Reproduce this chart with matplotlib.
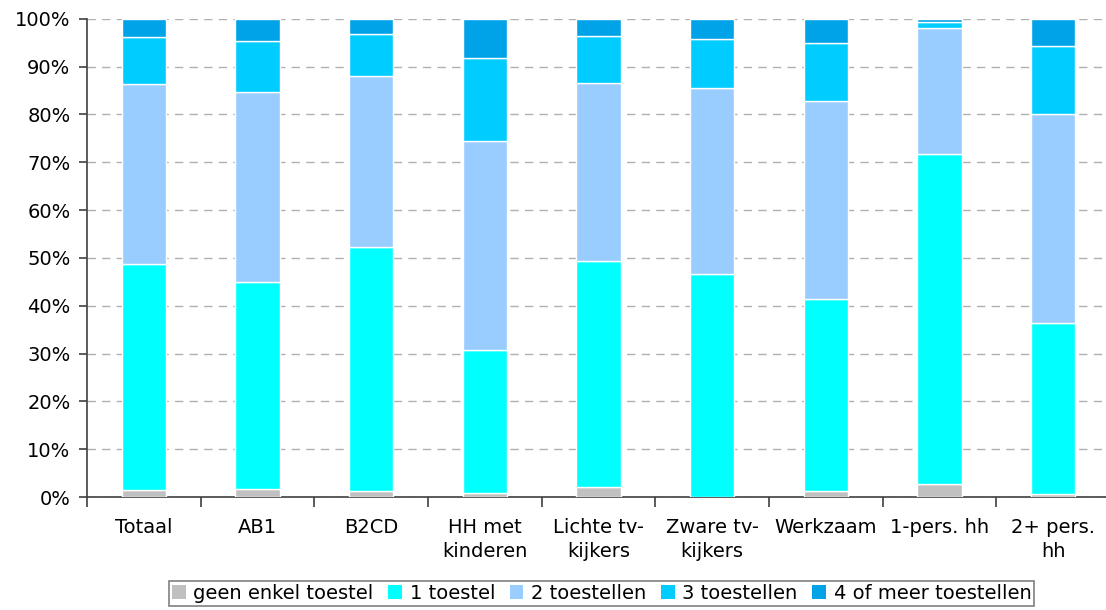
import matplotlib
matplotlib.use("Agg")
import matplotlib.pyplot as plt
import numpy as np

categories = ["Totaal", "AB1", "B2CD", "HH met\nkinderen", "Lichte tv-\nkijkers",
              "Zware tv-\nkijkers", "Werkzaam", "1-pers. hh", "2+ pers.\nhh"]
series_names = ["geen enkel toestel", "1 toestel", "2 toestellen", "3 toestellen", "4 of meer toestellen"]
geen = [1.4, 1.7, 1.3, 0.8, 2.1, 0.0, 1.3, 2.7, 0.7]
een = [47.3, 43.2, 51.0, 30.0, 47.3, 46.6, 40.1, 69.1, 35.6]
twee = [37.6, 39.8, 35.7, 43.7, 37.2, 38.9, 41.5, 26.3, 43.8]
drie = [9.9, 10.7, 8.9, 17.3, 9.7, 10.3, 12.0, 1.3, 14.3]
vier = [3.8, 4.6, 3.1, 8.2, 3.7, 4.2, 5.1, 0.6, 5.6]
colors = ["#C0C0C0", "#00FFFF", "#99CCFF", "#00CCFF", "#00A2E8"]

plt.rcParams['font.family'] = ['DejaVu Sans']
fig = plt.figure(figsize=(11.06, 6.10), dpi=100)
ax = fig.add_axes([0.0787, 0.1852, 0.925, 0.7841])

x = np.arange(len(categories))
bottom = np.zeros(len(categories))
handles = []
for vals, name, c in zip([geen, een, twee, drie, vier], series_names, colors):
    b = ax.bar(x, vals, bottom=bottom, width=0.39, color=c, edgecolor="white",
               linewidth=1.0, label=name, zorder=3)
    handles.append(b)
    bottom += np.array(vals)

ax.set_ylim(0, 100)
ax.set_xlim(-0.5, len(categories) - 0.5)
ax.set_yticks(np.arange(0, 101, 10))
ax.set_yticklabels([f"{v}%" for v in range(0, 101, 10)], fontsize=14)
ax.yaxis.grid(True, color="#B0B0B0", linestyle=(0, (6, 4.5)), linewidth=1.0, zorder=0)
ax.set_axisbelow(True)

ax.set_xticks(x)
ax.set_xticklabels(categories, fontsize=14, linespacing=1.35)
ax.set_xticks(np.arange(-0.5, len(categories), 1), minor=True)
ax.tick_params(axis="x", which="major", length=0, pad=15)
ax.tick_params(axis="x", which="minor", length=7, width=1.2, color="#404040")
ax.tick_params(axis="y", length=6, width=1.2, color="#404040", pad=6)

for s in ["top", "right"]:
    ax.spines[s].set_visible(False)
ax.spines["left"].set_color("#404040")
ax.spines["left"].set_linewidth(1.2)
ax.spines["bottom"].set_color("#404040")
ax.spines["bottom"].set_linewidth(1.2)

leg = fig.legend(handles=handles, labels=series_names, loc="upper center",
                 bbox_to_anchor=(0.544, 0.0475), ncol=5, fontsize=14,
                 frameon=True, fancybox=False, edgecolor="#606060",
                 handlelength=0.7, handleheight=0.7, handletextpad=0.4,
                 columnspacing=0.75, borderpad=0.15, borderaxespad=0)
leg.get_frame().set_linewidth(1.2)
for h in leg.legend_handles:
    h.set_edgecolor("none")

fig.savefig("out.png", dpi=100)
